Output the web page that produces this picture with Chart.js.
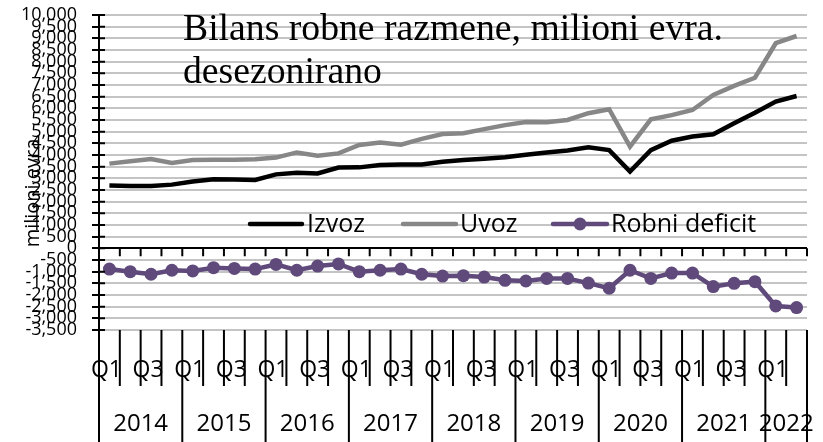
<!DOCTYPE html>
<html>
<head>
<meta charset="utf-8">
<script src="https://cdn.jsdelivr.net/npm/chart.js@4"></script>
<style>
  body { margin: 0; background: #fff; }
</style>
</head>
<body>
<canvas id="bilans" width="823" height="442"></canvas>
<script>
// podaci (milioni evra, desezonirano)
const years = ['2014', '2015', '2016', '2017', '2018', '2019', '2020', '2021', '2022'];
const quarters = ['Q1', 'Q2', 'Q3', 'Q4'];
const izvoz = [2690, 2670, 2670, 2730, 2860, 2960, 2950, 2930, 3170, 3240, 3210, 3460,
    3470, 3570, 3590, 3590, 3710, 3790, 3840, 3900, 4010, 4110, 4190, 4330,
    4210, 3290, 4210, 4610, 4790, 4890, 5360, 5810, 6290, 6530];
const uvoz = [3630, 3730, 3830, 3660, 3790, 3800, 3800, 3820, 3890, 4110, 3970, 4070,
    4430, 4540, 4440, 4690, 4900, 4930, 5110, 5280, 5410, 5400, 5500, 5790,
    5960, 4360, 5530, 5710, 5930, 6570, 6960, 7310, 8790, 9100];
const deficit = [-890, -1000, -1110, -940, -970, -830, -860, -890, -690, -940, -760, -670,
    -1000, -940, -890, -1110, -1190, -1170, -1230, -1370, -1400, -1290, -1290, -1490,
    -1710, -940, -1290, -1060, -1060, -1640, -1500, -1430, -2470, -2540];

const labels = [];
years.forEach(y => quarters.forEach(q => labels.push(q + ' ' + y)));
labels.length = izvoz.length;

const purple = '#5f4a7b';
Chart.defaults.font.family = "'Open Sans', sans-serif";

// naslov, legenda, oznake osa
const decor = {
    id: 'decor',
    afterDraw(chart) {
        const ctx = chart.ctx;
        const a = chart.chartArea;
        const x = chart.scales.x;
        const y = chart.scales.y;
        const n = labels.length;
        const half = (x.getPixelForValue(1) - x.getPixelForValue(0)) / 2;
        const bound = i => i < n ? x.getPixelForValue(i) - half : x.getPixelForValue(n - 1) + half;
        const y0 = y.getPixelForValue(0);

        ctx.save();
        ctx.strokeStyle = '#000';
        ctx.lineWidth = 2;
        ctx.beginPath();
        // crtice na nultoj liniji
        for (let i = 0; i <= n; i++) {
            ctx.moveTo(bound(i), y0);
            ctx.lineTo(bound(i), y0 + 8);
        }
        // crtice y ose unutra
        y.ticks.forEach(t => {
            const py = y.getPixelForValue(t.value);
            ctx.moveTo(a.left, py);
            ctx.lineTo(a.left + 6, py);
        });
        // separatori kategorija
        for (let i = 0; i <= n; i++) {
            ctx.moveTo(bound(i), a.bottom);
            ctx.lineTo(bound(i), (i % 4 === 0 || i === n) ? 442 : 386);
        }
        ctx.stroke();

        ctx.fillStyle = '#000';
        ctx.textBaseline = 'middle';
        ctx.textAlign = 'center';
        ctx.font = "23px 'Open Sans'";
        for (let i = 0; i < n; i++) {
            if (i % 2 === 0) {
                ctx.fillText(quarters[i % 4], x.getPixelForValue(i) - 3, 370);
            }
        }
        ctx.font = "24px 'Open Sans'";
        years.forEach((yr, k) => {
            const s = bound(k * 4);
            const e = bound(Math.min(k * 4 + 4, n));
            ctx.fillText(yr, (s + e) / 2, 424);
        });

        // naslov ose
        ctx.save();
        ctx.translate(33, 193);
        ctx.rotate(-Math.PI / 2);
        ctx.font = "20px 'Open Sans'";
        ctx.fillText('milioni evra', 0, 0);
        ctx.restore();

        // naslov grafikona
        ctx.textAlign = 'left';
        ctx.textBaseline = 'alphabetic';
        ctx.font = "37.7px 'Liberation Serif'";
        ctx.fillText('Bilans robne razmene, milioni evra.', 183, 40);
        ctx.fillText('desezonirano', 183, 83);

        // legenda
        const ly = 224;
        ctx.font = "25px 'Open Sans'";
        ctx.textBaseline = 'middle';
        ctx.lineWidth = 4.5;
        ctx.lineCap = 'round';
        const items = [
            { x1: 250, x2: 302, tx: 307, color: '#000', text: 'Izvoz' },
            { x1: 403, x2: 456, tx: 460, color: '#878787', text: 'Uvoz' },
            { x1: 553, x2: 607, tx: 611, color: purple, text: 'Robni deficit', dot: true }
        ];
        items.forEach(it => {
            ctx.strokeStyle = it.color;
            ctx.beginPath();
            ctx.moveTo(it.x1, ly);
            ctx.lineTo(it.x2, ly);
            ctx.stroke();
            if (it.dot) {
                ctx.fillStyle = it.color;
                ctx.beginPath();
                ctx.arc((it.x1 + it.x2) / 2, ly, 6.5, 0, Math.PI * 2);
                ctx.fill();
            }
            ctx.fillStyle = '#000';
            ctx.fillText(it.text, it.tx, ly + 1);
        });
        ctx.restore();
    }
};

new Chart(document.getElementById('bilans').getContext('2d'), {
    type: 'line',
    plugins: [decor],
    data: {
        labels: labels,
        datasets: [{
            label: 'Izvoz',
            data: izvoz,
            borderColor: '#000',
            borderWidth: 4.5,
            pointRadius: 0,
            tension: 0
        }, {
            label: 'Uvoz',
            data: uvoz,
            borderColor: '#878787',
            borderWidth: 4.5,
            pointRadius: 0,
            tension: 0
        }, {
            label: 'Robni deficit',
            data: deficit,
            borderColor: purple,
            backgroundColor: purple,
            borderWidth: 4.5,
            pointRadius: 6.5,
            pointBorderWidth: 0,
            tension: 0
        }]
    },
    options: {
        responsive: false,
        animation: false,
        layout: {
            padding: { left: 0, right: 16, top: 15, bottom: 112 }
        },
        plugins: {
            legend: { display: false },
            tooltip: { enabled: false }
        },
        scales: {
            x: {
                display: false,
                offset: true
            },
            y: {
                min: -3500,
                max: 10000,
                afterFit: scale => {
                    scale.width = 99;
                    scale.paddingTop = 0;
                    scale.paddingBottom = 0;
                },
                border: { color: '#000', width: 2 },
                grid: {
                    color: c => c.tick && c.tick.value === 0 ? '#000' : '#c4c4c4',
                    lineWidth: 2,
                    tickColor: '#000',
                    tickLength: 7,
                    tickWidth: 2
                },
                ticks: {
                    stepSize: 500,
                    autoSkip: false,
                    padding: 15,
                    color: '#000',
                    font: { size: 18 },
                    callback: v => v.toLocaleString('en-US')
                }
            }
        }
    }
});
</script>
</body>
</html>
